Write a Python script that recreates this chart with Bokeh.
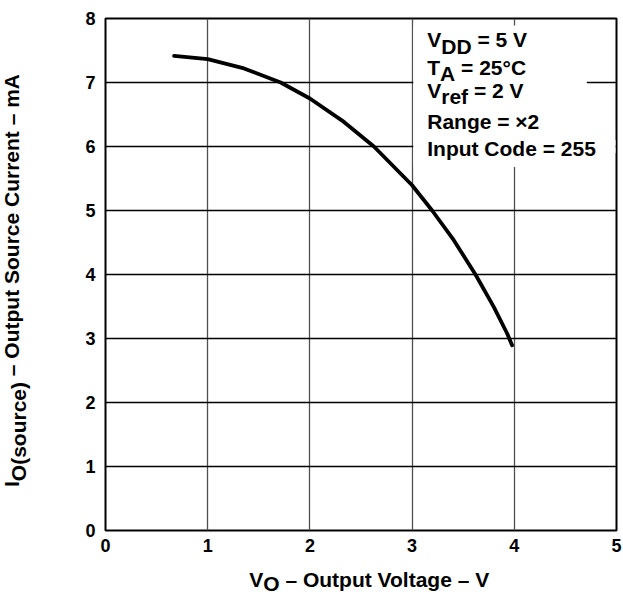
import math
from bokeh.plotting import figure
from bokeh.models import Label, Range1d, FixedTicker
from bokeh.layouts import row, column
from bokeh.embed import file_html
from bokeh.resources import INLINE

# ---- data ----
vo = [0.671, 1.0, 1.355, 1.714, 2.0, 2.333, 2.626, 3.0, 3.196, 3.408,
      3.62, 3.799, 3.93, 3.978]
io = [7.416, 7.364, 7.22, 7.0, 6.75, 6.384, 6.0, 5.395, 5.0, 4.536,
      4.0, 3.494, 3.078, 2.895]
x_ticks = [0, 1, 2, 3, 4, 5]
y_ticks = [0, 1, 2, 3, 4, 5, 6, 7, 8]

FONT = "Liberation Sans"
FS = 21          # text font size (px)
SHIFT = 6.5      # subscript drop (px)

W = {" ": 278, "(": 333, ")": 333, "\u2013": 556, "=": 584, "\u00b0": 400,
     "\u00d7": 584, "A": 722, "C": 722, "D": 722, "I": 278, "O": 778,
     "R": 722, "S": 667, "T": 611, "V": 667, "a": 556, "c": 556, "d": 611,
     "e": 556, "f": 333, "g": 611, "i": 278, "l": 278, "m": 889, "n": 611,
     "o": 611, "p": 611, "r": 389, "s": 556, "t": 333, "u": 611}
for ch in "0123456789":
    W[ch] = 556


def twidth(s, size=FS):
    return sum(W.get(c, 600) for c in s) * size / 1000.0


def pieces_width(pieces):
    return sum(twidth(t) for t, sub in pieces)


def compose(fig, x, y, pieces, vertical=False, shift=SHIFT, start=0.0):
    off = start
    for t, sub in pieces:
        lead = len(t) - len(t.lstrip(" "))
        core = t.strip(" ")
        trail = len(t) - lead - len(core)
        off += twidth(" " * lead)
        if vertical:
            xo, yo = (shift if sub else 0), off
        else:
            xo, yo = off, (-shift if sub else 0)
        fig.add_layout(Label(x=x, y=y, text=core, x_offset=xo, y_offset=yo,
                             angle=(math.pi / 2 if vertical else 0),
                             text_font=FONT, text_font_style="bold",
                             text_font_size=f"{FS}px", text_color="black",
                             text_align="left", text_baseline="alphabetic"))
        off += twidth(core) + twidth(" " * trail)


# ---------------- main chart ----------------
p = figure(width=581, height=562, output_backend="svg", toolbar_location=None,
           x_range=Range1d(0, 5), y_range=Range1d(0, 8),
           min_border_left=63, min_border_right=7,
           min_border_top=18, min_border_bottom=32)

p.outline_line_color = "black"
p.outline_line_width = 2
p.background_fill_color = "white"
p.border_fill_color = "white"

for ax, ticks in ((p.xaxis, x_ticks), (p.yaxis, y_ticks)):
    ax.ticker = FixedTicker(ticks=ticks)
    ax.axis_line_color = None
    ax.major_tick_line_color = None
    ax.minor_tick_line_color = None
    ax.major_label_text_font = FONT
    ax.major_label_text_font_style = "bold"
    ax.major_label_text_font_size = "18px"
    ax.major_label_text_color = "black"
p.xaxis.major_label_standoff = 2
p.yaxis.major_label_standoff = 4

p.xgrid.ticker = FixedTicker(ticks=x_ticks)
p.ygrid.ticker = FixedTicker(ticks=y_ticks)
p.xgrid.grid_line_color = "#505050"
p.xgrid.grid_line_width = 1.3
p.ygrid.grid_line_color = "black"
p.ygrid.grid_line_width = 1.3

# white background behind the condition notes
p.quad(left=[3.012], right=[4.71], bottom=[5.68], top=[7.89],
       fill_color="white", line_color=None)
p.quad(left=[4.71], right=[4.99], bottom=[5.9], top=[6.1],
       fill_color="white", line_color=None)

p.line(vo, io, line_color="black", line_width=3.8, line_cap="round",
       line_join="round")

LIFT = 7.0 / 64.0   # Label baseline correction (data units)
notes = [
    (7.556, [("V", False), ("DD", True), (" = 5 V", False)]),
    (7.13, [("T", False), ("A", True), (" = 25\u00b0C", False)]),
    (6.77, [("V", False), ("ref", True), (" = 2 V", False)]),
    (6.28, [("Range = \u00d72", False)]),
    (5.86, [("Input Code = 255", False)]),
]
for yy, pcs in notes:
    compose(p, 3.148, yy + LIFT, pcs)

# ---------------- y-axis title strip ----------------
yt = figure(width=42, height=594, output_backend="svg", toolbar_location=None,
            x_range=Range1d(0, 42), y_range=Range1d(0, 594),
            x_axis_location=None, y_axis_location=None, min_border=0)
yt.outline_line_color = None
yt.grid.visible = False
ylab = [("I", False), ("O(source)", True),
        (" \u2013 Output Source Current \u2013 mA", False)]
compose(yt, 11, 594 - 280 - pieces_width(ylab) / 2, ylab, vertical=True)

# ---------------- x-axis title strip (frame aligned with chart) -----------
xt = figure(width=581, height=32, output_backend="svg", toolbar_location=None,
            x_range=p.x_range, y_range=Range1d(0, 32),
            x_axis_location=None, y_axis_location=None, min_border=0)
xt.outline_line_color = None
xt.grid.visible = False
xlab = [("V", False), ("O", True), (" \u2013 Output Voltage \u2013 V", False)]
compose(xt, 2.588, 15.5, xlab, shift=4.5, start=-pieces_width(xlab) / 2)

layout = row(yt, column(p, xt))
open("out.html", "w").write(file_html(layout, INLINE))
